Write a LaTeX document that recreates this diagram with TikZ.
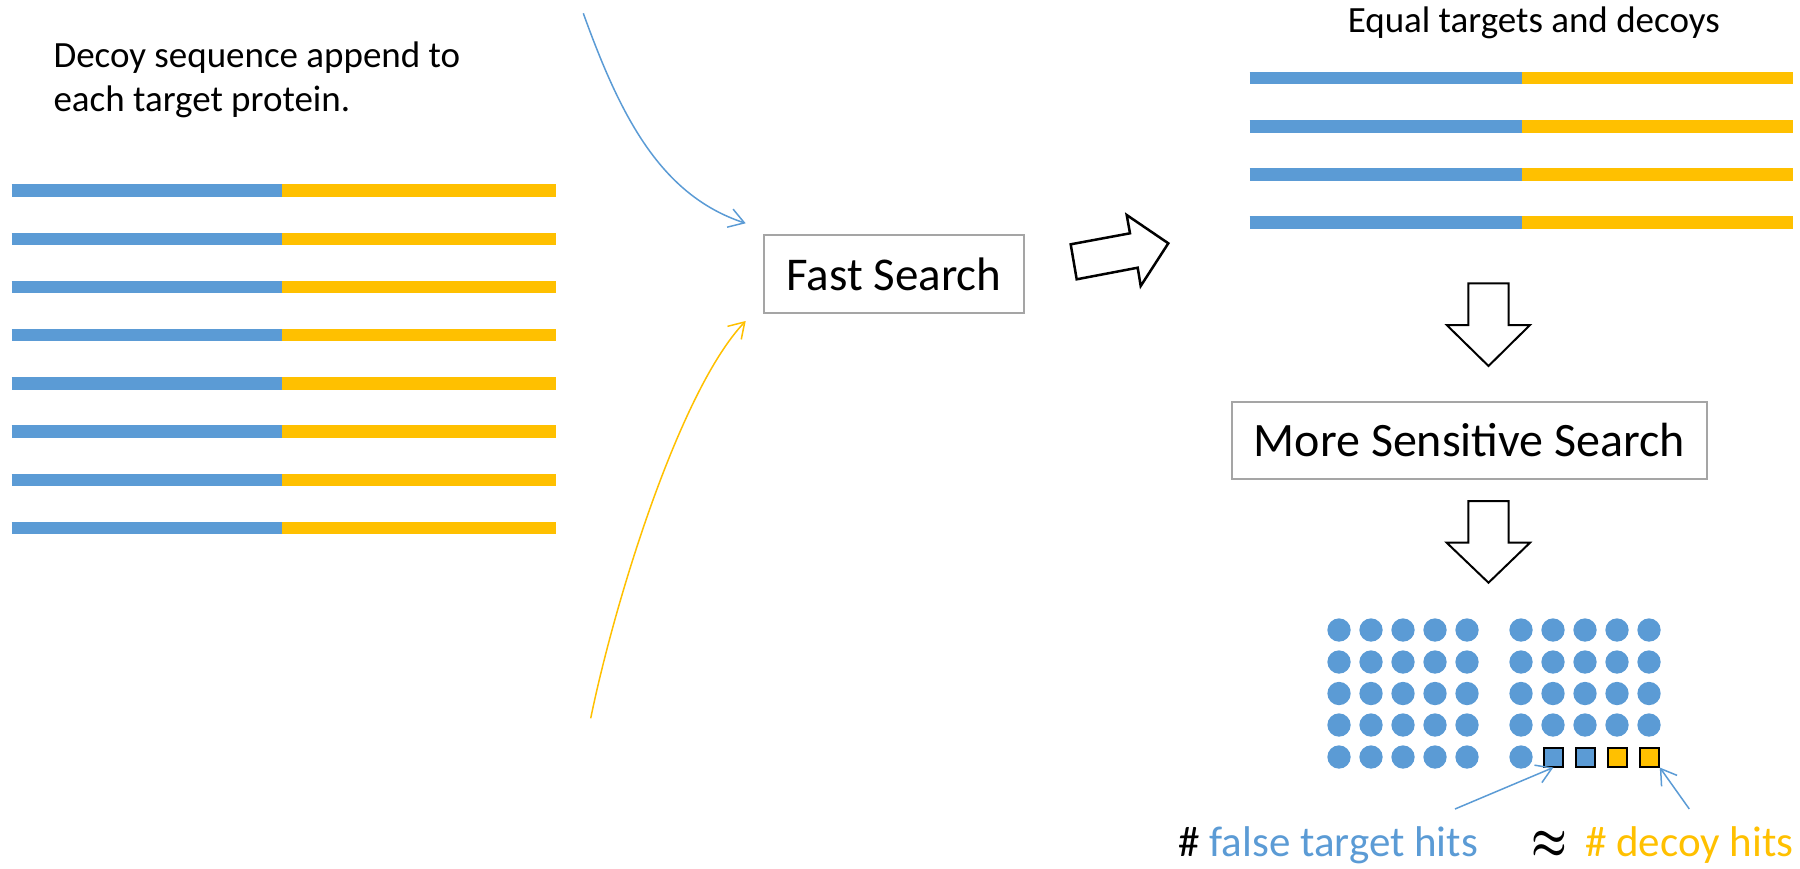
\documentclass[tikz,border=0pt]{standalone}
\usepackage{fontspec}
\setmainfont{Carlito}
\usetikzlibrary{arrows.meta}
\definecolor{tblue}{HTML}{5B9BD5}
\definecolor{dyellow}{HTML}{FFC000}
\definecolor{boxgray}{HTML}{A5A5A5}
\begin{document}
\begin{tikzpicture}[x=1pt,y=-1pt,
  bar/.style={line width=12.5pt},
  hit/.style={line width=1.5pt,-{Straight Barb[length=15pt,width=19pt,line width=1.5pt]}},
  searchbox/.style={draw=boxgray,line width=2.5pt,inner sep=0pt},
  blockarrow/.style={draw=black,fill=white,line width=2.5pt,line join=miter},
  dot/.style={circle,fill=tblue,minimum size=23.3pt,inner sep=0pt},
  hitsq/.style={draw=black,line width=2pt,minimum size=19pt,inner sep=0pt},
  label/.style={anchor=base west,inner sep=0pt},
  midfont/.style={font=\fontsize{37}{44}\selectfont},
  bigfont/.style={font=\fontsize{47}{56}\selectfont},
  widefont/.style={font=\fontsize{48}{57}\selectfont},
  hitfont/.style={font=\fontsize{43}{50}\selectfont}]
\useasboundingbox (0,0) rectangle (1800,868);

% left: eight target proteins, each with a decoy appended
\node[label,midfont] (note1) at (53.3,67.7) {Decoy sequence append to};
\node[label,midfont] (note2) at (53.3,111.7) {each target protein.};
\foreach \i in {0,...,7}{
  \pgfmathsetmacro\yy{190.6+48.2*\i}
  \draw[bar,tblue] (11.5,\yy) -- (282,\yy);
  \draw[bar,dyellow] (282,\yy) -- (556,\yy);
}

% first search
\node[searchbox,bigfont,minimum width=260pt,minimum height=78pt] (fast) at (894,274) {Fast Search};
\coordinate (bstart) at (583.3,13.3);
\coordinate (bend) at (745.7,223.3);
\coordinate (ystart) at (590.7,718.3);
\coordinate (yend) at (745.7,321);
\draw[hit,tblue] (bstart) .. controls (620,115) and (660,195) .. (bend);
\draw[hit,dyellow] (ystart) .. controls (615,600) and (680,390) .. (yend);

% block arrow towards the reduced database
\draw[blockarrow] (1070.7,244.3) -- (1130,233.3) -- (1126.7,215) -- (1168.3,243.3)
  -- (1140.7,286) -- (1137.7,267.7) -- (1076.7,279.3) -- cycle;

% right: equal numbers of targets and decoys
\node[label,midfont] (equal) at (1347.6,32.5) {Equal targets and decoys};
\foreach \yy in {78,126.3,174.5,222.6}{
  \draw[bar,tblue] (1249.6,\yy) -- (1521.5,\yy);
  \draw[bar,dyellow] (1521.5,\yy) -- (1793.4,\yy);
}

% down arrows and second search
\draw[blockarrow,line width=2pt] (1468.3,283.3) -- (1508.7,283.3) -- (1508.7,325) -- (1530,325)
  -- (1488.5,366) -- (1446.7,325) -- (1468.3,325) -- cycle;
\node[searchbox,widefont,minimum width=475pt,minimum height=77pt] (sens) at (1469.5,440.5) {More Sensitive Search};
\draw[blockarrow,line width=2pt] (1468.3,501) -- (1508.7,501) -- (1508.7,542.7) -- (1530,542.7)
  -- (1488.5,582.7) -- (1446.7,542.7) -- (1468.3,542.7) -- cycle;

% hits
\foreach \r/\y in {1/630,2/662,3/693.5,4/725,5/757}{
  \foreach \c/\x in {1/1339,2/1371,3/1403,4/1435,5/1467}{
    \node[dot] (L-\r-\c) at (\x,\y) {};
  }
}
\foreach \r/\y in {1/630,2/662,3/693.5,4/725}{
  \foreach \c/\x in {1/1521,2/1553,3/1585,4/1617,5/1649}{
    \node[dot] (R-\r-\c) at (\x,\y) {};
  }
}
\node[dot] (R-5-1) at (1521,757) {};
\node[hitsq,fill=tblue] (sq1) at (1553.3,757) {};
\node[hitsq,fill=tblue] (sq2) at (1585.3,757) {};
\node[hitsq,fill=dyellow] (sq3) at (1617.3,757) {};
\node[hitsq,fill=dyellow] (sq4) at (1649.3,757) {};

% labels for the hits
\node[label,hitfont] (falsehits) at (1178.3,856.7) {\# \textcolor{tblue}{false target hits}};
\node[inner sep=0pt] (approx) at (1549,845) {\scalebox{4}[5]{\boldmath$\approx$}};
\node[label,hitfont,text=dyellow] (decoyhits) at (1585,856.7) {\# decoy hits};
\coordinate (fstart) at (1455,809);
\coordinate (dstart) at (1689.3,809);
\draw[hit,tblue] (fstart) -- (sq1.south);
\draw[hit,tblue] (dstart) -- (sq4.south east);
\end{tikzpicture}
\end{document}
